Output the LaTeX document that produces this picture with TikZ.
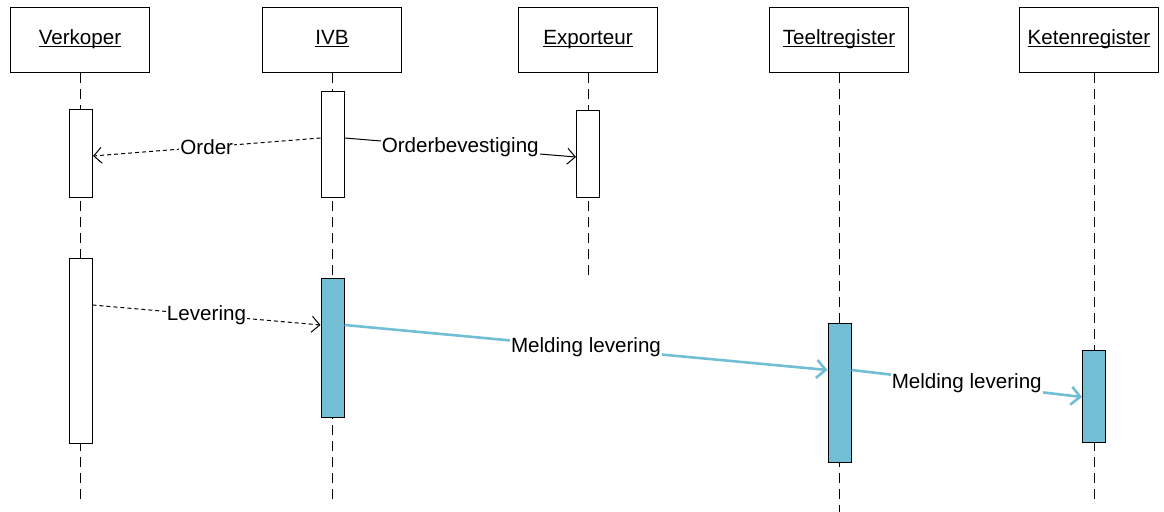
\documentclass[tikz,border=0pt]{standalone}
\usepackage{fontspec}
\setmainfont{Liberation Sans}
\usetikzlibrary{arrows.meta}
\definecolor{meldblue}{RGB}{114,190,212}
\newcommand{\lifename}[1]{\setbox0\hbox{#1}\rlap{\rule[-1pt]{\wd0}{0.5pt}}\box0}
\tikzset{
  head/.style={draw, line width=0.5pt, fill=white, minimum width=69.5pt, minimum height=32.5pt, inner sep=0pt, text height=7.5pt, text depth=3pt},
  life/.style={line width=0.5pt, dash pattern=on 5pt off 3pt},
  act/.style={draw, line width=0.5pt, fill=white, minimum width=11.5pt, inner sep=0pt},
  actblue/.style={act, fill=meldblue},
  msg/.style={line width=0.5pt, -{Straight Barb[length=4pt,width=8pt]}},
  msgdash/.style={msg, dash pattern=on 2pt off 1.5pt},
  msgblue/.style={line width=1.3pt, draw=meldblue, -{Straight Barb[length=4.5pt,width=9pt,line width=1.3pt]}},
  lbl/.style={fill=white, inner sep=0.5pt, text=black}
}
\begin{document}
\begin{tikzpicture}[x=0.5pt, y=-0.5pt, font=\fontsize{10.3}{12}\selectfont]
    \useasboundingbox (0,0) rectangle (1164,512);
    % lifelines
    \coordinate (verkEnd) at (80,502);
    \coordinate (ivbEnd) at (332,502);
    \coordinate (expEnd) at (588,278);
    \coordinate (teeltEnd) at (839,512);
    \coordinate (ketenEnd) at (1094,502);
    \node[head] (verk) at (80,40.5) {\lifename{Verkoper}};
    \node[head] (ivb) at (332,40.5) {\lifename{IVB}};
    \node[head] (exp) at (588,40.5) {\lifename{Exporteur}};
    \node[head] (teelt) at (839,40.5) {\lifename{Teeltregister}};
    \node[head] (keten) at (1089,40.5) {\lifename{Ketenregister}};
    \draw[life] (verk.south) -- (verkEnd);
    \draw[life] (ivb.south) -- (ivbEnd);
    \draw[life] (exp.south) -- (expEnd);
    \draw[life] (teelt.south) -- (teeltEnd);
    \draw[life] (keten.south -| ketenEnd) -- (ketenEnd);
    % activations
    \node[act, minimum height=44pt] (verkA) at (81,154) {};
    \node[act, minimum height=53pt] (ivbA) at (332.5,145) {};
    \node[act, minimum height=43.5pt] (expA) at (588,154.5) {};
    \node[act, minimum height=92.5pt] (verkB) at (80.5,351.5) {};
    \node[actblue, minimum height=69.5pt] (ivbB) at (332.5,348.5) {};
    \node[actblue, minimum height=69.5pt] (teeltA) at (839.5,393.5) {};
    \node[actblue, minimum height=46pt] (ketenA) at (1094,397) {};
    % messages
    \draw[msgdash] ([yshift=3.5pt]ivbA.west) -- node[lbl] {Order} ([yshift=-1pt]verkA.east);
    \draw[msg] ([yshift=3.5pt]ivbA.east) -- node[lbl] {Orderbevestiging} ([yshift=-1.25pt]expA.west);
    \draw[msgdash] ([yshift=23.25pt]verkB.east) -- node[lbl] {Levering} ([yshift=11.75pt]ivbB.west);
    \draw[msgblue] ([yshift=11.75pt]ivbB.east) -- node[lbl] {Melding levering} ([yshift=11.75pt]teeltA.west);
    \draw[msgblue] ([yshift=11.75pt]teeltA.east) -- node[lbl] {Melding levering} (ketenA.west);
\end{tikzpicture}
\end{document}
